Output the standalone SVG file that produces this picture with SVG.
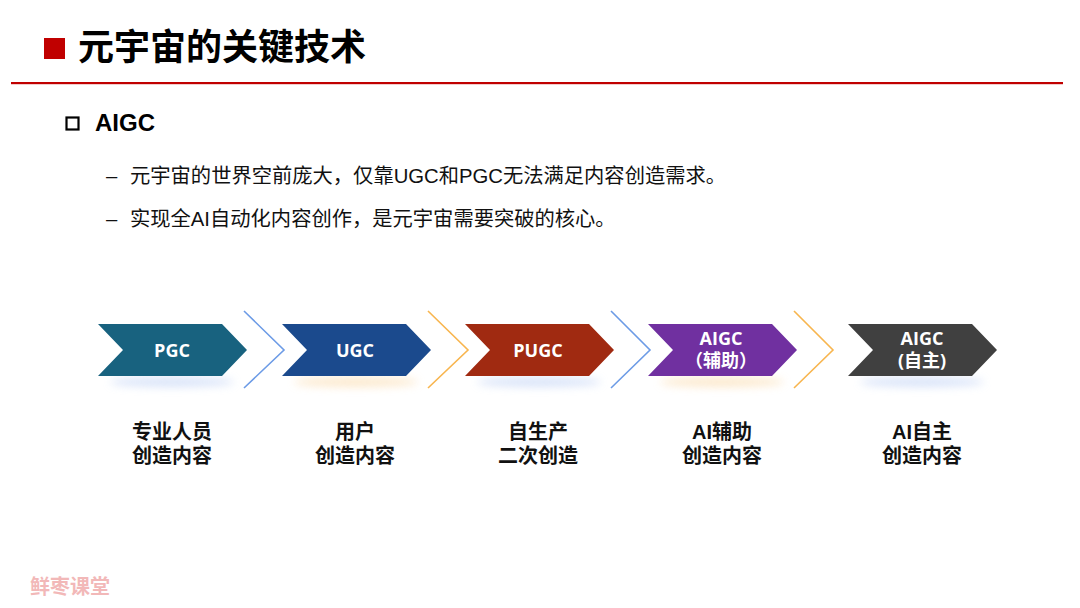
<svg xmlns="http://www.w3.org/2000/svg" width="1080" height="608" viewBox="0 0 1080 608">
<defs>
<style>
.title{font-family:"Noto Sans CJK SC",sans-serif;font-size:36px;font-weight:bold;fill:#000;}
.sub{font-family:"Liberation Sans","Noto Sans CJK SC",sans-serif;font-size:24px;font-weight:bold;fill:#000;}
.body{font-family:"Liberation Sans","Noto Sans CJK SC",sans-serif;font-size:20.3px;fill:#111;}
.lab{font-family:"Open Sans","Noto Sans CJK SC",sans-serif;font-size:18px;font-weight:bold;fill:#fff;text-anchor:middle;}
.cap{font-family:"Liberation Sans","Noto Sans CJK SC",sans-serif;font-size:20px;font-weight:bold;fill:#111;text-anchor:middle;}
.sep{fill:none;stroke-width:1.6;}
.blue{stroke:#6C9BE6;}
.orange{stroke:#F8B54E;}
</style>
<path id="chev" d="M0,0 H124 L149,26 L124,52 H0 L25,26 Z"/>
<filter id="blur" x="-50%" y="-200%" width="200%" height="500%"><feGaussianBlur stdDeviation="4"/></filter>
</defs>
<rect width="1080" height="608" fill="#fff"/>

<g id="header">
<rect x="44" y="38" width="21" height="21" fill="#C00000"/>
<text class="title" x="78" y="60">元宇宙的关键技术</text>
<rect x="11" y="82" width="1052" height="2.2" fill="#C00000"/>
</g>

<g id="section">
<rect x="66.5" y="117.5" width="12" height="12" fill="none" stroke="#000" stroke-width="2.2"/>
<text class="sub" x="95" y="131">AIGC</text>
<text class="body" x="106" y="183">–</text>
<text class="body" x="130" y="183">元宇宙的世界空前庞大，仅靠UGC和PGC无法满足内容创造需求。</text>
<text class="body" x="106" y="226">–</text>
<text class="body" x="130" y="226">实现全AI自动化内容创作，是元宇宙需要突破的核心。</text>
</g>

<g id="shadows" filter="url(#blur)" opacity="0.7">
<ellipse cx="172" cy="382" rx="62" ry="5" fill="#C9D8F6"/>
<ellipse cx="356" cy="382" rx="62" ry="5" fill="#FBE0B8"/>
<ellipse cx="539" cy="382" rx="62" ry="5" fill="#C9D8F6"/>
<ellipse cx="722" cy="382" rx="62" ry="5" fill="#FBE0B8"/>
<ellipse cx="922" cy="382" rx="62" ry="5" fill="#C9D8F6"/>
</g>

<g id="connectors">
<polyline class="sep blue" points="244,311 284,350 244,388"/>
<polyline class="sep orange" points="428,311 468,350 428,388"/>
<polyline class="sep blue" points="611,311 650,350 611,388"/>
<polyline class="sep orange" points="794,311 833,350 794,388"/>
</g>

<g id="node-pgc">
<use href="#chev" x="98" y="324" fill="#18627F"/>
<text class="lab" x="172" y="356.5">PGC</text>
<text class="cap" x="172" y="439">专业人员</text>
<text class="cap" x="172" y="463">创造内容</text>
</g>

<g id="node-ugc">
<use href="#chev" x="282" y="324" fill="#1B4A8D"/>
<text class="lab" x="355" y="356.5">UGC</text>
<text class="cap" x="355" y="439">用户</text>
<text class="cap" x="355" y="463">创造内容</text>
</g>

<g id="node-pugc">
<use href="#chev" x="465" y="324" fill="#A02A11"/>
<text class="lab" x="538" y="356.5">PUGC</text>
<text class="cap" x="538" y="439">自生产</text>
<text class="cap" x="538" y="463">二次创造</text>
</g>

<g id="node-aigc-assist">
<use href="#chev" x="648" y="324" fill="#7030A0"/>
<text class="lab" x="721" y="345">AIGC</text>
<text class="lab" x="721" y="367">（辅助）</text>
<text class="cap" x="722" y="439">AI辅助</text>
<text class="cap" x="722" y="463">创造内容</text>
</g>

<g id="node-aigc-auto">
<use href="#chev" x="848" y="324" fill="#404040"/>
<text class="lab" x="922" y="345">AIGC</text>
<text class="lab" x="922" y="367">(自主)</text>
<text class="cap" x="922" y="439">AI自主</text>
<text class="cap" x="922" y="463">创造内容</text>
</g>

<g id="watermark">
<text x="30" y="594" font-family="Noto Sans CJK SC,sans-serif" font-size="20" font-weight="bold" fill="#F2B8B8">鲜枣课堂</text>
</g>
</svg>
